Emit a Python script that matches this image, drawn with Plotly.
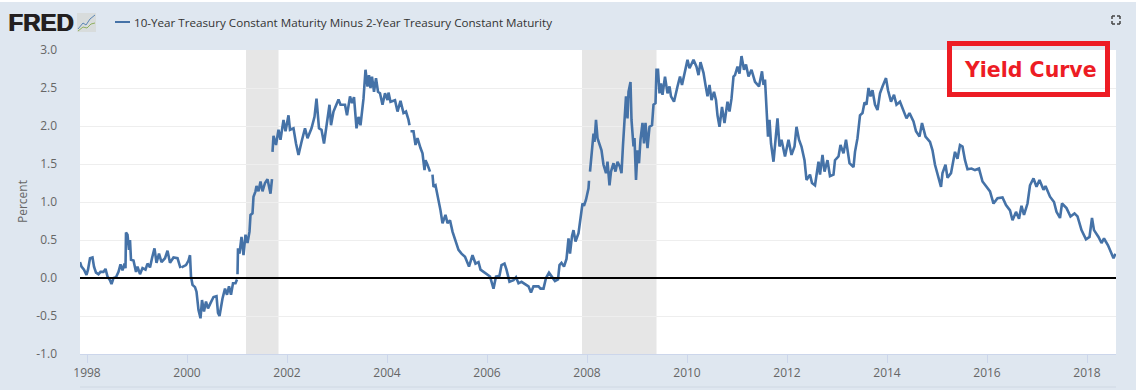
import plotly.graph_objects as go

# Spread data; None marks a gap in the published series
years = [1997.86,1997.89,1997.94,1997.99,1998.02,1998.06,1998.11,1998.14,1998.18,1998.23,1998.27,1998.33,1998.37,1998.41,1998.46,1998.49,1998.53,1998.58,1998.63,1998.67,1998.71,1998.75,1998.77,1998.78,1998.81,1998.84,1998.86,1998.88,1998.93,1998.98,1999.01,1999.06,1999.11,1999.17,1999.21,1999.26,1999.30,1999.35,1999.39,1999.44,1999.49,1999.56,1999.61,1999.66,1999.73,1999.81,1999.87,1999.88,1999.89,1999.98,2000.03,2000.06,2000.08,2000.11,2000.16,2000.19,2000.23,2000.27,2000.30,2000.34,2000.38,2000.42,2000.47,2000.53,2000.59,2000.62,2000.65,2000.71,2000.76,2000.80,2000.84,2000.88,2000.92,2000.97,2001.00,2001.005,2001.01,2001.02,2001.05,2001.09,2001.13,2001.17,2001.21,2001.25,2001.27,2001.31,2001.33,2001.37,2001.39,2001.43,2001.47,2001.51,2001.56,2001.61,2001.67,2001.70,2001.705,
2001.71,2001.73,2001.78,2001.83,2001.87,2001.93,2001.97,2002.03,2002.06,2002.13,2002.18,2002.23,2002.29,2002.36,2002.41,2002.49,2002.55,2002.59,2002.64,2002.69,2002.74,2002.79,2002.85,2002.88,2002.93,2003.03,2003.07,2003.16,2003.20,2003.26,2003.30,2003.34,2003.39,2003.43,2003.47,2003.53,2003.57,2003.61,2003.64,2003.67,2003.70,2003.74,2003.78,2003.82,2003.86,2003.91,2003.96,2004.01,2004.03,2004.07,2004.16,2004.21,2004.27,2004.33,2004.38,2004.43,2004.45,2004.46,2004.47,2004.53,2004.57,2004.61,2004.67,2004.71,2004.75,2004.77,2004.81,2004.86,2004.88,2004.91,2004.93,2004.97,2005.03,2005.07,2005.11,2005.17,2005.21,2005.26,2005.31,2005.36,2005.43,2005.49,2005.56,2005.64,2005.71,2005.77,2005.83,2005.87,2005.94,2006.06,2006.13,2006.18,2006.25,2006.29,2006.35,2006.39,2006.45,2006.53,2006.58,2006.63,2006.69,2006.76,2006.83,2006.88,2006.93,2007.03,2007.07,2007.13,2007.18,2007.24,2007.29,2007.36,2007.42,2007.45,2007.49,2007.54,2007.59,2007.63,2007.66,2007.70,2007.73,2007.77,2007.83,2007.87,2007.91,2007.94,2007.98,2008.03,2008.04,2008.05,2008.06,2008.09,2008.13,2008.15,2008.18,2008.21,2008.26,2008.29,2008.33,2008.38,2008.41,2008.45,2008.48,2008.53,2008.57,2008.61,2008.66,2008.69,2008.72,2008.75,2008.78,2008.81,2008.83,2008.87,2008.89,2008.93,2008.95,2008.98,2009.01,2009.04,2009.07,2009.11,2009.14,2009.17,2009.21,2009.25,2009.30,2009.33,2009.37,
2009.39,2009.42,2009.45,2009.48,2009.51,2009.56,2009.61,2009.65,2009.68,2009.74,2009.81,2009.86,2009.90,2009.95,2010.01,2010.05,2010.13,2010.19,2010.23,2010.27,2010.33,2010.37,2010.41,2010.45,2010.49,2010.54,2010.58,2010.61,2010.65,2010.70,2010.75,2010.81,2010.85,2010.89,2010.93,2010.96,2011.01,2011.05,2011.09,2011.14,2011.18,2011.23,2011.29,2011.36,2011.44,2011.50,2011.53,2011.56,2011.59,2011.62,2011.65,2011.68,2011.73,2011.76,2011.79,2011.81,2011.85,2011.89,2011.96,2012.03,2012.09,2012.15,2012.19,2012.24,2012.29,2012.35,2012.39,2012.46,2012.50,2012.56,2012.63,2012.66,2012.71,2012.75,2012.81,2012.86,2012.93,2012.96,2013.03,2013.07,2013.13,2013.18,2013.25,2013.33,2013.36,2013.41,2013.46,2013.51,2013.55,2013.59,2013.63,2013.67,2013.71,2013.76,2013.81,2013.86,2013.91,2013.98,
2014.02,2014.08,2014.14,2014.19,2014.26,2014.34,2014.39,2014.45,2014.53,2014.58,2014.65,2014.70,2014.77,2014.86,2014.91,2014.96,2015.03,2015.08,2015.11,2015.17,2015.21,2015.28,2015.36,2015.41,2015.46,2015.51,2015.56,2015.61,2015.69,2015.76,2015.84,2015.91,2015.99,2016.06,2016.13,2016.21,2016.31,2016.38,2016.46,2016.51,2016.58,2016.64,2016.69,2016.74,2016.81,2016.86,2016.93,2016.99,2017.05,2017.13,2017.17,2017.26,2017.34,2017.39,2017.46,2017.50,2017.59,2017.67,2017.75,2017.81,2017.89,2017.98,2018.05,2018.10,2018.14,2018.23,2018.29,2018.34,2018.42,2018.49,2018.53,2018.57]

spread = [.21,.15,.11,.04,.11,.26,.27,.15,.07,.05,.08,.08,.12,.02,-.03,-.08,0,.01,.08,.18,.10,.19,.13,.60,.57,.37,.50,.24,.23,.08,.15,.05,.13,.11,.19,.14,.26,.39,.20,.32,.21,.26,.36,.20,.27,.26,.13,None,.14,.17,.23,.30,.02,-.09,-.12,-.18,-.42,-.53,-.29,-.44,-.31,-.40,-.33,-.25,-.24,-.46,-.50,-.27,-.14,-.22,-.11,-.22,-.07,-.07,-.02,None,.05,.39,.32,.54,.30,.57,.46,.61,.83,.85,1.07,1.14,1.21,1.14,1.27,1.14,1.25,1.30,1.11,1.30,None,
1.66,1.87,1.75,1.95,1.82,2.08,1.93,2.14,1.95,1.97,1.77,1.62,1.79,1.97,1.84,1.97,2.12,2.36,1.97,1.95,1.77,2.01,2.28,2.01,2.19,2.35,2.28,2.28,2.14,2.39,2.30,2.38,1.97,2.12,2.01,2.36,2.74,2.52,2.67,2.50,2.65,2.45,2.63,2.45,2.43,2.28,2.43,2.34,2.44,2.32,2.34,2.19,2.33,2.17,2.19,2.08,2.01,None,1.93,1.93,1.75,1.84,1.71,1.64,1.42,1.55,1.49,1.40,None,1.36,1.20,1.22,1.03,.89,.72,.83,.72,.76,.61,.50,.37,.32,.28,.15,.30,.19,.21,.11,.08,.02,-.14,.02,.03,.17,.19,.11,-.05,-.03,.01,-.07,-.05,-.08,-.11,-.19,-.11,-.11,-.14,-.14,0,.07,.02,-.04,-.02,.17,.20,.15,.25,.52,.32,.55,.63,.48,.59,.83,.98,.95,1.03,1.18,1.28,None,1.40,1.64,1.90,1.79,2.08,1.84,1.75,1.68,1.49,1.38,1.53,1.22,1.40,1.51,1.40,1.53,1.46,1.38,1.75,2.04,2.39,2.10,2.45,2.58,2.08,1.73,1.84,1.29,1.68,1.51,1.82,2.04,1.77,2.04,1.71,1.99,2.01,2.28,2.30,
2.74,2.74,2.43,2.56,2.41,2.65,2.43,2.52,2.39,2.32,2.52,2.65,2.54,2.71,2.87,2.76,2.87,2.78,2.67,2.84,2.70,2.54,2.39,2.54,2.34,2.45,2.34,2.14,1.99,2.25,2.04,2.32,2.19,2.36,2.65,2.67,2.78,2.69,2.92,2.74,2.81,2.65,2.74,2.58,2.52,2.72,2.54,2.61,2.21,1.86,2.08,1.77,1.53,1.73,1.95,2.10,1.73,1.82,1.60,1.82,1.62,1.73,1.99,1.82,1.73,1.55,1.29,1.36,1.25,1.22,1.53,1.36,1.62,1.40,1.55,1.34,1.36,1.55,1.60,1.75,1.64,1.82,1.51,1.46,1.66,1.84,2.14,2.17,2.31,2.28,2.50,2.39,2.47,2.28,2.21,2.43,2.52,2.63,
2.47,2.32,2.41,2.28,2.32,2.19,2.10,2.17,2.06,1.93,1.86,2.04,1.86,1.79,1.68,1.49,1.33,1.20,1.38,1.49,1.32,1.38,1.66,1.57,1.75,1.73,1.55,1.43,1.44,1.42,1.44,1.27,1.20,1.14,.98,1.05,1.06,.96,.89,.76,.87,.78,.95,.83,.98,1.22,1.31,1.20,1.29,1.16,1.21,1.07,1.00,.87,.79,.98,.92,.81,.85,.81,.63,.51,.54,.79,.63,.54,.46,.52,.43,.32,.26,.32]

recession_starts = [2001.18, 2007.90]
recession_ends = [2001.83, 2009.39]
y_ticks = [-1.0, -0.5, 0.0, 0.5, 1.0, 1.5, 2.0, 2.5, 3.0]
x_ticks = [1998, 2000, 2002, 2004, 2006, 2008, 2010, 2012, 2014, 2016, 2018]
series_name = "10-Year Treasury Constant Maturity Minus 2-Year Treasury Constant Maturity"

W, H = 1136, 390
L, R, T, B = 80, 1116, 50, 354
BG = "#dfe7f0"
RED = "#ed1c24"
BLUE = "#4572a7"


def fx(px):
    return (px - L) / (R - L)


def fy(py):
    return (B - py) / (B - T)


def rect(x0, y0, x1, y1, **kw):
    return dict(type="rect", xref="paper", yref="paper", x0=fx(x0), x1=fx(x1), y0=fy(y1), y1=fy(y0), **kw)


def seg(x0, y0, x1, y1, color, width):
    return dict(type="line", xref="paper", yref="paper", x0=fx(x0), x1=fx(x1), y0=fy(y0), y1=fy(y1),
                line=dict(color=color, width=width))


fig = go.Figure()
fig.add_trace(go.Scatter(x=years, y=spread, mode="lines", name=series_name,
                         line=dict(color=BLUE, width=2.6), connectgaps=False, showlegend=False))

shapes = []
for a, b in zip(recession_starts, recession_ends):
    shapes.append(dict(type="rect", xref="x", yref="paper", x0=a, x1=b, y0=0, y1=1,
                       fillcolor="#e6e6e6", line_width=0, layer="below"))
shapes.append(dict(type="line", xref="paper", yref="y", x0=0, x1=1, y0=0, y1=0,
                   line=dict(color="#000000", width=2), layer="above"))
# Yield Curve frame
shapes.append(rect(949.5, 43.5, 1107.5, 94.5, line=dict(color=RED, width=5)))
# legend key
shapes.append(seg(115, 22, 130, 22, BLUE, 2))
# logo icon
shapes.append(rect(77, 13, 96, 32, fillcolor="#d8dcdc", line_width=0))
for pts, c in (([(78, 29), (83, 23), (86, 25), (90, 19), (95, 15)], "#5b86b5"),
               ([(78, 31), (83, 27), (87, 28), (91, 24), (95, 23)], "#8fb060")):
    for p, q in zip(pts, pts[1:]):
        shapes.append(seg(p[0], p[1], q[0], q[1], c, 1))
# fullscreen icon
for x0, y0, dx, dy in ((1112, 16, 1, 1), (1120, 16, -1, 1), (1112, 24, 1, -1), (1120, 24, -1, -1)):
    shapes.append(seg(x0, y0, x0 + 3 * dx, y0, "#444444", 1.5))
    shapes.append(seg(x0, y0, x0, y0 + 3 * dy, "#444444", 1.5))
# lines under the axis and frame of the screenshot
shapes.append(seg(80, 387, 1116, 387, "#cfd8e3", 1))
shapes.append(rect(0, 0, 1136, 2, fillcolor="#ffffff", line_width=0))

annotations = [
    dict(text="<b>FRED</b>", x=fx(6), y=fy(22.5), xref="paper", yref="paper", xanchor="left", yanchor="middle",
         showarrow=False, font=dict(family="Liberation Sans", size=24, color="#231f20",
                                    shadow="1px 0 0 #231f20")),
    dict(text=series_name, x=fx(132), y=fy(22), xref="paper", yref="paper", xanchor="left", yanchor="middle",
         showarrow=False, font=dict(family="Open Sans", size=11.65, color="#333333")),
    dict(text="<b>Yield Curve</b>", x=fx(1099), y=fy(70), xref="paper", yref="paper", xanchor="right",
         yanchor="middle", showarrow=False, font=dict(family="DejaVu Sans", size=20.5, color=RED)),
    dict(text="Percent", x=fx(22), y=fy(202), xref="paper", yref="paper", textangle=-90, xanchor="center",
         yanchor="middle", showarrow=False, font=dict(family="Open Sans", size=12, color="#666666")),
]

fig.update_layout(
    width=W, height=H, margin=dict(l=L, r=W - R, t=T, b=H - B, autoexpand=False),
    paper_bgcolor=BG, plot_bgcolor="#ffffff", showlegend=False,
    font=dict(family="Open Sans", size=12, color="#666666"),
    shapes=shapes, annotations=annotations,
    xaxis=dict(range=[1997.86, 2018.58], tickmode="array", tickvals=x_ticks, automargin=False,
               ticktext=[str(v) for v in x_ticks], ticks="outside", ticklen=8, tickcolor="#ccd6eb",
               tickwidth=1, showgrid=False, showline=True, linecolor="#ccd6eb", zeroline=False, fixedrange=True),
    yaxis=dict(range=[-1, 3], tickmode="array", tickvals=y_ticks, ticktext=[f"{v:.1f}" for v in y_ticks],
               automargin=False, showgrid=True, gridcolor="#eeeeee", gridwidth=1, zeroline=False, showline=False,
               ticks="", ticklabelstandoff=22, fixedrange=True),
)

fig.write_html("out.html", post_script="document.body.style.margin='0';",
               config=dict(displayModeBar=False))
